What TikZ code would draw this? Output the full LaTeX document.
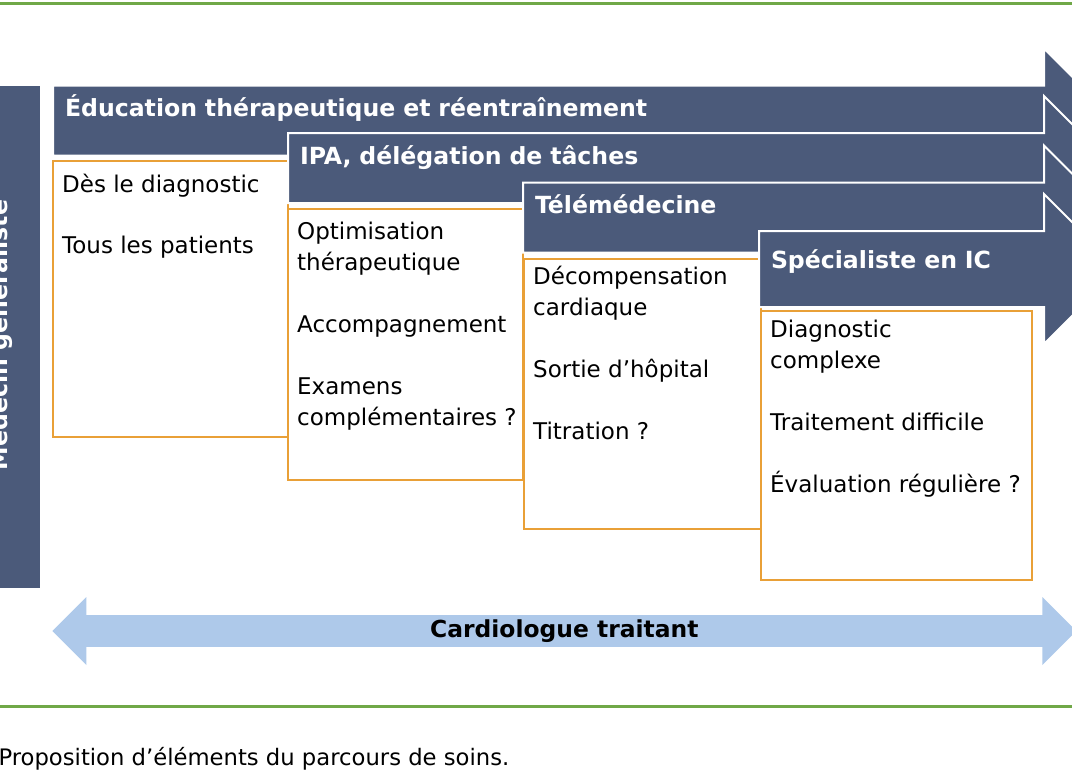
\documentclass[tikz,border=0pt]{standalone}
\usepackage{fontspec}
\setmainfont{DejaVu Sans}
\usepackage{tikz}
\usetikzlibrary{shapes,arrows}
\definecolor{slate}{RGB}{75,90,122}
\definecolor{boxorange}{RGB}{233,160,55}
\definecolor{paleblue}{RGB}{174,201,234}
\definecolor{rulegreen}{RGB}{112,168,71}
\tikzstyle{stage} = [single arrow, draw=white, line width=2pt, fill=slate, text=white, font=\fontsize{23.6}{26}\selectfont\bfseries, single arrow head extend=37pt, inner xsep=11pt, inner ysep=10pt, text height=20pt, text depth=28pt, align=left]
\tikzstyle{frame} = [rectangle, draw=boxorange, line width=1.8pt, fill=white, anchor=north west]
\tikzstyle{items} = [anchor=north west, align=left, inner xsep=10pt, inner ysep=14pt, font=\fontsize{23}{31}\selectfont]
\tikzstyle{rule} = [draw=rulegreen, line width=3pt]

\begin{document}
\begin{tikzpicture}[x=1pt, y=-1pt]
					\useasboundingbox (0,0) rectangle (1072,772);
					\path [rule] (0,3) -- (1072,3);
					\path [rule] (0,706) -- (1072,706);
					\node [fill=slate, minimum width=40pt, minimum height=502pt, anchor=north west, inner sep=0pt] (mg) at (0,86) {};
					\node [rotate=90, anchor=base, text=white, font=\fontsize{23.6}{26}\selectfont\bfseries] (mgtext) at (7,335) {Médecin généraliste};
					\node [stage, text width=1004pt, anchor=tail] (edu) at (52,120.5) {Éducation thérapeutique et réentraînement};
					\node [frame, minimum width=235pt, minimum height=276pt] (box1) at (52,160) {};
					\node [items] (list1) at (box1.north west) {Dès le diagnostic\\[30pt]Tous les patients};
					\node [stage, text width=769pt, anchor=tail] (ipa) at (287,168) {IPA, délégation de tâches};
					\node [frame, minimum width=235pt, minimum height=271pt] (box2) at (287,208) {};
					\node [items] (list2) at (box2.north west) {Optimisation\\thérapeutique\\[31pt]Accompagnement\\[31pt]Examens\\complémentaires ?};
					\node [stage, text width=534pt, anchor=tail] (tele) at (522,217.5) {Télémédecine};
					\node [frame, minimum width=237pt, minimum height=270pt] (box3) at (523,258) {};
					\node [items, yshift=6pt] (list3) at (box3.north west) {Décompensation\\cardiaque\\[31pt]Sortie d’hôpital\\[31pt]Titration ?};
					\node [stage, text width=298pt, anchor=tail, text height=26pt] (spec) at (758,269) {Spécialiste en IC};
					\node [frame, minimum width=271pt, minimum height=269pt] (box4) at (760,310) {};
					\node [items, yshift=4pt] (list4) at (box4.north west) {Diagnostic\\complexe\\[31pt]Traitement difficile\\[31pt]Évaluation régulière ?};
					\node [double arrow, fill=paleblue, minimum height=1024pt, minimum width=68pt, double arrow head extend=17pt, anchor=west, font=\fontsize{23.4}{26}\selectfont\bfseries] (cardio) at (52,631) {Cardiologue traitant};
					\node [anchor=base west, font=\fontsize{22.7}{24}\selectfont] (caption) at (-5,765) {Proposition d’éléments du parcours de soins.};
				\end{tikzpicture}
\end{document}
